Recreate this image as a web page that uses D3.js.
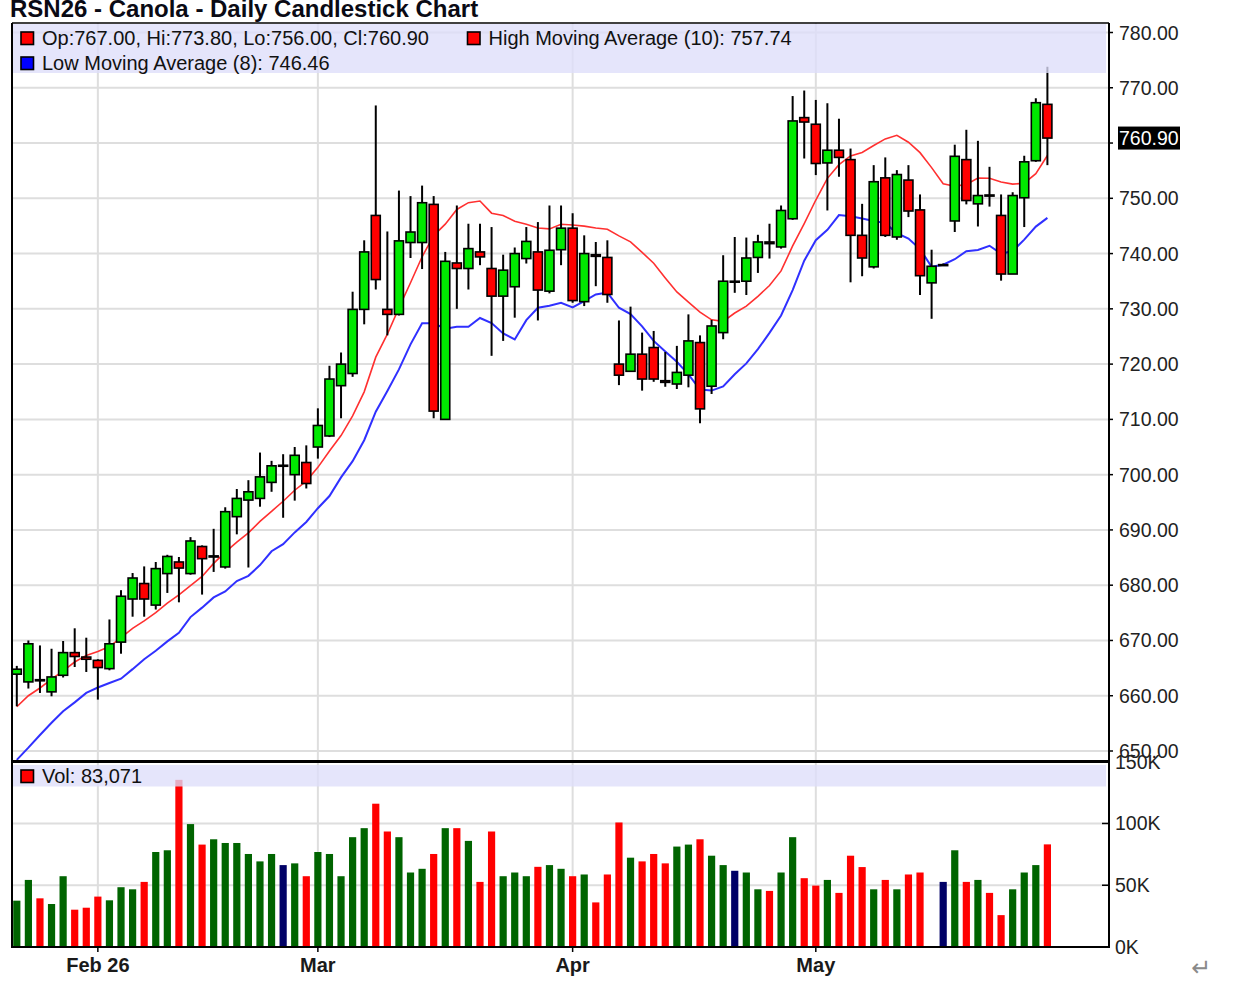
<!DOCTYPE html>
<html><head><meta charset="utf-8">
<script src="https://cdn.jsdelivr.net/npm/d3@7/dist/d3.min.js"></script>
<style>
body{margin:0;background:#fff}
svg{display:block;font-family:"Liberation Sans",Arial,Helvetica,sans-serif}
</style>
</head><body>
<svg id="chart" width="1258" height="988"></svg>
<script>
// ---------------- DATA ----------------
const dates = [
"2026-01-22","2026-01-23","2026-01-26","2026-01-27","2026-01-28","2026-01-29","2026-01-30",
"2026-02-02","2026-02-03","2026-02-04","2026-02-05","2026-02-06","2026-02-09","2026-02-10","2026-02-11","2026-02-12","2026-02-13",
"2026-02-17","2026-02-18","2026-02-19","2026-02-20","2026-02-23","2026-02-24","2026-02-25","2026-02-26","2026-02-27",
"2026-03-02","2026-03-03","2026-03-04","2026-03-05","2026-03-06","2026-03-09","2026-03-10","2026-03-11","2026-03-12","2026-03-13",
"2026-03-16","2026-03-17","2026-03-18","2026-03-19","2026-03-20","2026-03-23","2026-03-24","2026-03-25","2026-03-26","2026-03-27",
"2026-03-30","2026-03-31",
"2026-04-01","2026-04-02","2026-04-06","2026-04-07","2026-04-08","2026-04-09","2026-04-10","2026-04-13","2026-04-14","2026-04-15",
"2026-04-16","2026-04-17","2026-04-20","2026-04-21","2026-04-22","2026-04-23","2026-04-24","2026-04-27","2026-04-28","2026-04-29","2026-04-30",
"2026-05-01","2026-05-04","2026-05-05","2026-05-06","2026-05-07","2026-05-08","2026-05-11","2026-05-12","2026-05-13","2026-05-14",
"2026-05-15","2026-05-18","2026-05-19","2026-05-20","2026-05-21","2026-05-22","2026-05-25","2026-05-26","2026-05-27","2026-05-28","2026-05-29"
];

const openP = [663.9,662.5,662.9,660.7,663.7,667.8,667.0,666.4,664.9,669.7,
677.5,680.3,676.4,682.1,684.2,682.1,687.0,685.1,683.3,692.4,
695.4,695.7,698.6,701.7,700.0,702.2,705.0,707.0,716.1,718.3,
729.9,746.9,729.9,729.0,742.0,742.0,748.9,710.0,738.3,737.3,
740.3,737.3,732.3,734.0,739.1,740.3,733.2,740.7,744.6,731.3,
739.8,739.3,720.0,718.7,721.8,723.0,717.0,716.4,718.0,723.9,
716.0,725.7,735.0,735.0,739.3,742.1,741.2,746.3,764.6,763.4,
756.4,758.7,757.0,743.3,737.6,753.7,743.0,753.3,747.9,734.7,
738.0,745.9,757.0,749.0,750.6,746.9,736.3,750.1,756.8,767.0];

const highP = [665.4,670.0,669.1,668.5,669.9,672.2,670.5,666.6,673.8,679.1,
682.2,683.4,684.2,685.5,685.1,688.7,687.2,690.2,694.1,697.4,
699.0,704.0,702.5,703.7,705.0,705.3,712.0,719.7,722.1,733.1,
742.4,766.8,744.0,751.4,750.4,752.3,750.4,740.3,748.7,745.4,
745.4,744.8,739.8,741.1,744.8,745.7,748.7,748.7,747.3,743.3,
742.1,742.4,727.9,730.4,725.7,726.0,722.2,723.3,729.0,725.2,
728.0,739.7,743.0,742.9,743.4,745.4,748.7,768.5,769.5,767.8,
767.2,764.4,759.0,749.0,756.0,757.4,755.1,756.0,750.7,740.7,
738.2,759.7,762.4,760.4,755.7,750.7,751.1,757.7,768.1,773.8];

const lowP = [658.1,661.3,660.5,659.9,663.3,665.2,664.3,659.3,664.6,667.6,
674.3,674.3,675.6,678.6,676.9,681.9,678.3,682.4,683.0,689.2,
683.2,694.2,696.9,692.2,695.3,697.5,702.9,706.8,710.2,717.7,
727.2,733.5,725.2,728.8,739.2,737.2,710.2,710.0,730.0,733.5,
737.9,721.5,724.2,728.4,738.2,727.9,732.8,737.9,731.1,730.5,
734.1,731.1,716.2,718.6,715.2,716.8,715.9,715.5,715.8,709.3,
714.6,724.5,732.9,732.5,736.5,739.1,740.9,746.1,757.2,754.2,
747.8,753.9,734.8,735.9,737.3,743.0,742.5,746.6,732.5,728.2,
737.8,743.9,748.9,744.9,748.5,735.1,736.3,744.8,756.6,756.0];

const closeP = [664.8,669.4,662.7,663.4,667.8,667.1,666.6,665.1,669.4,678.0,
681.3,677.5,683.0,685.2,683.1,688.0,684.8,685.3,693.3,695.7,
696.9,699.6,701.6,701.7,703.5,698.4,708.9,717.3,720.0,729.9,
740.3,735.3,729.0,742.3,743.9,749.2,711.5,738.6,737.3,740.9,
739.4,732.3,737.0,740.0,742.2,733.4,740.6,744.6,731.5,740.0,
739.5,732.6,718.0,721.8,717.3,717.3,716.7,718.5,724.2,711.9,
726.9,735.0,735.0,739.2,742.1,741.8,747.8,764.0,763.8,756.3,
758.7,757.4,743.3,739.2,753.0,743.3,754.3,747.7,736.0,737.7,
738.0,757.6,749.6,750.5,750.4,736.3,750.5,756.6,767.3,760.9];

const volume = [37500,54300,39400,34800,57300,30200,31800,40800,37800,48400,
46700,52700,76900,78300,135300,99500,82900,87200,84200,84200,
75300,69300,75300,66300,67700,57300,76900,75300,57300,88900,
96200,116000,93500,88900,60300,63300,75300,96200,96200,85900,
52700,93500,57300,60300,57300,64900,66300,63300,57300,58700,
36100,58700,100800,72300,69300,75300,67700,81300,82900,87200,
73900,66300,61700,60300,46700,45400,60300,88900,55700,49700,
54300,43800,73900,64700,46700,54300,46700,58700,60300,0,
52700,78300,52700,54300,43800,25800,46700,60300,66300,83071];

// High Moving Average (10) and Low Moving Average (8)
const highMA10 = [658.0,660.0,661.4,663.0,664.5,666.1,667.3,668.0,668.9,670.51,
672.19,673.53,675.04,676.74,678.26,679.91,681.58,683.94,685.97,687.80,
689.48,691.54,693.37,695.19,697.18,698.84,701.32,704.27,707.07,710.64,
714.98,721.26,725.41,730.18,734.72,739.42,743.26,745.32,747.98,749.21,
749.51,747.31,746.89,745.86,745.30,744.64,744.47,745.31,745.17,744.96,
744.63,744.39,743.20,742.13,740.22,738.25,735.60,733.06,731.23,729.42,
728.01,727.74,729.25,730.50,732.27,734.21,736.86,741.38,745.43,749.69,
753.61,756.08,757.68,758.29,759.55,760.75,761.39,760.14,758.26,755.55,
752.65,752.18,752.52,753.66,753.63,752.96,752.56,752.73,754.47,757.74];

const lowMA8 = [648.4,650.6,652.9,655.1,657.2,658.8,660.5,661.49,662.30,663.09,
664.81,666.61,668.15,669.83,671.40,674.23,675.94,677.79,678.88,680.74,
681.69,683.64,686.14,687.43,689.55,691.44,693.93,696.13,699.50,702.44,
706.23,711.39,715.13,719.04,723.58,727.38,727.38,726.41,726.76,726.76,
728.35,727.44,725.56,724.46,727.96,730.20,730.55,731.10,730.25,731.38,
732.61,732.95,730.20,729.04,726.84,724.20,722.30,720.43,718.14,715.41,
715.21,715.95,718.16,720.13,722.70,725.65,728.79,733.39,738.71,742.43,
744.29,746.96,746.75,746.35,745.90,745.51,743.68,742.73,740.81,737.60,
737.98,738.98,740.43,740.66,741.41,739.98,740.45,742.53,744.88,746.46];

const priceTicks = [650,660,670,680,690,700,710,720,730,740,750,760,770,780];
const volTicks = [0,50000,100000,150000];
const volTickLabels = ["0K","50K","100K","150K"];
const monthTickLabels = ["Feb 26","Mar","Apr","May"];
const titleText = "RSN26 - Canola - Daily Candlestick Chart";

// ---------------- LAYOUT ----------------
const svg = d3.select("#chart");
const PL = 12, PR = 1109, PT = 23, PB = 761, VB = 947;
const n = dates.length;
const last = n - 1;

const x = d3.scaleLinear().domain([0, n - 1]).range([16.8, 1047.4]);
const y = d3.scaleLinear().domain([650, 780]).range([751, 32.5]);
const yv = d3.scaleLinear().domain([0, 150000]).range([947, 761.7]);

const GREEN = "#00e800", RED = "#ff0000";
const dirOf = i => closeP[i] > openP[i] ? "up" : (closeP[i] < openP[i] ? "down" : "flat");
const candleFill = {up: GREEN, down: RED, flat: "#000"};
const volFill = {up: "#006400", down: "#ff0000", flat: "#000066"};

svg.append("rect").attr("width", 1258).attr("height", 988).attr("fill", "#fff");

// month tick indices: first trading day of each month after the first
const idx = d3.range(n);
const monthIdx = idx.filter(i => i > 0 && dates[i].slice(5,7) !== dates[i-1].slice(5,7));

// clip paths
const defs = svg.append("defs");
defs.append("clipPath").attr("id","clipP").append("rect")
  .attr("x", PL).attr("y", PT).attr("width", PR - PL).attr("height", PB - PT);
defs.append("clipPath").attr("id","clipV").append("rect")
  .attr("x", PL).attr("y", PB + 1).attr("width", PR - PL).attr("height", VB - PB - 1);

// ---------------- GRID ----------------
const grid = svg.append("g").attr("stroke", "#dedede").attr("stroke-width", 2);
grid.selectAll("line.v").data(monthIdx).join("line")
  .attr("x1", d => x(d)).attr("x2", d => x(d)).attr("y1", PT).attr("y2", VB);
grid.selectAll("line.hp").data(priceTicks).join("line")
  .attr("x1", PL).attr("x2", PR).attr("y1", d => y(d)).attr("y2", d => y(d));
grid.selectAll("line.hv").data(volTicks.filter(v => v > 0 && v < 150000)).join("line")
  .attr("x1", PL).attr("x2", PR).attr("y1", d => yv(d)).attr("y2", d => yv(d));

// ---------------- PRICE PANEL ----------------
const pg = svg.append("g").attr("clip-path", "url(#clipP)");
const lineGen = arr => d3.line().x((d, i) => x(i)).y(d => y(d))(arr);
pg.append("path").attr("d", lineGen(highMA10)).attr("fill", "none")
  .attr("stroke", "#ff3030").attr("stroke-width", 1.6);
pg.append("path").attr("d", lineGen(lowMA8)).attr("fill", "none")
  .attr("stroke", "#3030ff").attr("stroke-width", 2);

const cg = pg.append("g");
cg.selectAll("line.wick").data(idx).join("line")
  .attr("x1", i => x(i)).attr("x2", i => x(i))
  .attr("y1", i => y(highP[i])).attr("y2", i => y(lowP[i]))
  .attr("stroke", "#000").attr("stroke-width", 2);
const bw = 9;
cg.selectAll("rect.body").data(idx).join("rect")
  .attr("x", i => x(i) - bw / 2)
  .attr("y", i => y(Math.max(openP[i], closeP[i])))
  .attr("width", bw)
  .attr("height", i => Math.max(1, Math.abs(y(openP[i]) - y(closeP[i]))))
  .attr("fill", i => candleFill[dirOf(i)])
  .attr("stroke", "#000").attr("stroke-width", 1.6);

// legend band (semi-transparent, on top of marks)
svg.append("rect").attr("x", PL + 1).attr("y", PT + 1).attr("width", PR - PL - 4).attr("height", 49)
  .attr("fill", "#dedefa").attr("opacity", 0.78);

const fmt2 = d3.format(".2f");
const legend = svg.append("g").attr("font-size", 20).attr("fill", "#111");
function legendItem(g, sx, ty, color, text) {
  g.append("rect").attr("x", sx).attr("y", ty - 13).attr("width", 12.5).attr("height", 12.5)
    .attr("fill", color).attr("stroke", "#000").attr("stroke-width", 1.6);
  g.append("text").attr("x", sx + 21).attr("y", ty).text(text);
}
legendItem(legend, 21, 45, RED,
  `Op:${fmt2(openP[last])}, Hi:${fmt2(highP[last])}, Lo:${fmt2(lowP[last])}, Cl:${fmt2(closeP[last])}`);
legendItem(legend, 467.5, 45, RED, `High Moving Average (10): ${fmt2(highMA10[last])}`);
legendItem(legend, 21, 70, "#0000ff", `Low Moving Average (8): ${fmt2(lowMA8[last])}`);

// ---------------- VOLUME PANEL ----------------
const vg = svg.append("g").attr("clip-path", "url(#clipV)");
const vw = 7.2;
vg.selectAll("rect.vol").data(idx.filter(i => volume[i] > 0)).join("rect")
  .attr("x", i => x(i) - vw / 2).attr("y", i => yv(volume[i]))
  .attr("width", vw).attr("height", i => yv(0) - yv(volume[i]))
  .attr("fill", i => volFill[dirOf(i)]);

svg.append("rect").attr("x", PL + 1).attr("y", 765).attr("width", PR - PL - 4).attr("height", 21.5)
  .attr("fill", "#dedefa").attr("opacity", 0.78);
const vlegend = svg.append("g").attr("font-size", 20).attr("fill", "#111");
legendItem(vlegend, 21, 783, RED, `Vol: ${d3.format(",")(volume[last])}`);

// ---------------- FRAMES ----------------
const fr = svg.append("g").attr("stroke", "#000");
fr.append("line").attr("x1", PL).attr("x2", PR).attr("y1", PT).attr("y2", PT).attr("stroke-width", 1.6);
fr.append("line").attr("x1", PL).attr("x2", PL).attr("y1", PT).attr("y2", VB).attr("stroke-width", 2);
fr.append("line").attr("x1", PR).attr("x2", PR).attr("y1", PT).attr("y2", VB).attr("stroke-width", 2);
fr.append("line").attr("x1", PL - 1).attr("x2", PR + 1).attr("y1", PB + 0.5).attr("y2", PB + 0.5).attr("stroke-width", 3);
fr.append("line").attr("x1", PL - 1).attr("x2", PR + 1).attr("y1", VB).attr("y2", VB).attr("stroke-width", 2);

// ---------------- AXES ----------------
const axisTxt = svg.append("g").attr("font-size", 19.5).attr("fill", "#222");
// price ticks (outward) and labels
fr.selectAll("line.pt").data(priceTicks).join("line")
  .attr("x1", PR).attr("x2", PR + 4).attr("y1", d => y(d)).attr("y2", d => y(d)).attr("stroke-width", 1.5);
axisTxt.selectAll("text.pl").data(priceTicks.filter(d => Math.abs(y(d) - y(closeP[last])) > 12)).join("text")
  .attr("x", 1119).attr("y", d => y(d)).attr("dy", "0.36em").text(d => fmt2(d));
// volume ticks (inward) and labels
fr.selectAll("line.vt").data(volTicks.filter(v => v > 0 && v < 150000)).join("line")
  .attr("x1", PR - 7).attr("x2", PR).attr("y1", d => yv(d)).attr("y2", d => yv(d)).attr("stroke-width", 1.5);
axisTxt.selectAll("text.vl").data(volTicks).join("text")
  .attr("x", 1115).attr("y", d => yv(d)).attr("dy", "0.36em")
  .text((d, i) => volTickLabels[i]);
// month ticks and labels
fr.selectAll("line.mt").data(monthIdx).join("line")
  .attr("x1", d => x(d)).attr("x2", d => x(d)).attr("y1", VB).attr("y2", VB + 5).attr("stroke-width", 1.5);
svg.append("g").attr("font-size", 20).attr("font-weight", "bold").attr("fill", "#1a1a1a")
  .selectAll("text").data(monthIdx).join("text")
  .attr("x", d => x(d)).attr("y", 972).attr("text-anchor", "middle")
  .text((d, i) => monthTickLabels[i]);

// current price box
const cy = y(closeP[last]);
svg.append("rect").attr("x", 1118).attr("y", cy - 11.5).attr("width", 62).attr("height", 23).attr("fill", "#000");
svg.append("text").attr("x", 1119).attr("y", cy).attr("dy", "0.36em").attr("font-size", 19.5)
  .attr("fill", "#fff").text(fmt2(closeP[last]));

// title
svg.append("text").attr("x", 10).attr("y", 17).attr("font-size", 24).attr("font-weight", "bold")
  .attr("fill", "#0a0a14").text(titleText);

// stray return mark at bottom right
svg.append("text").attr("x", 1201).attr("y", 976).attr("text-anchor", "middle")
  .attr("font-family", "DejaVu Sans").attr("font-size", 24).attr("fill", "#8a8a8a").text("\u21B5");
</script>
</body></html>
